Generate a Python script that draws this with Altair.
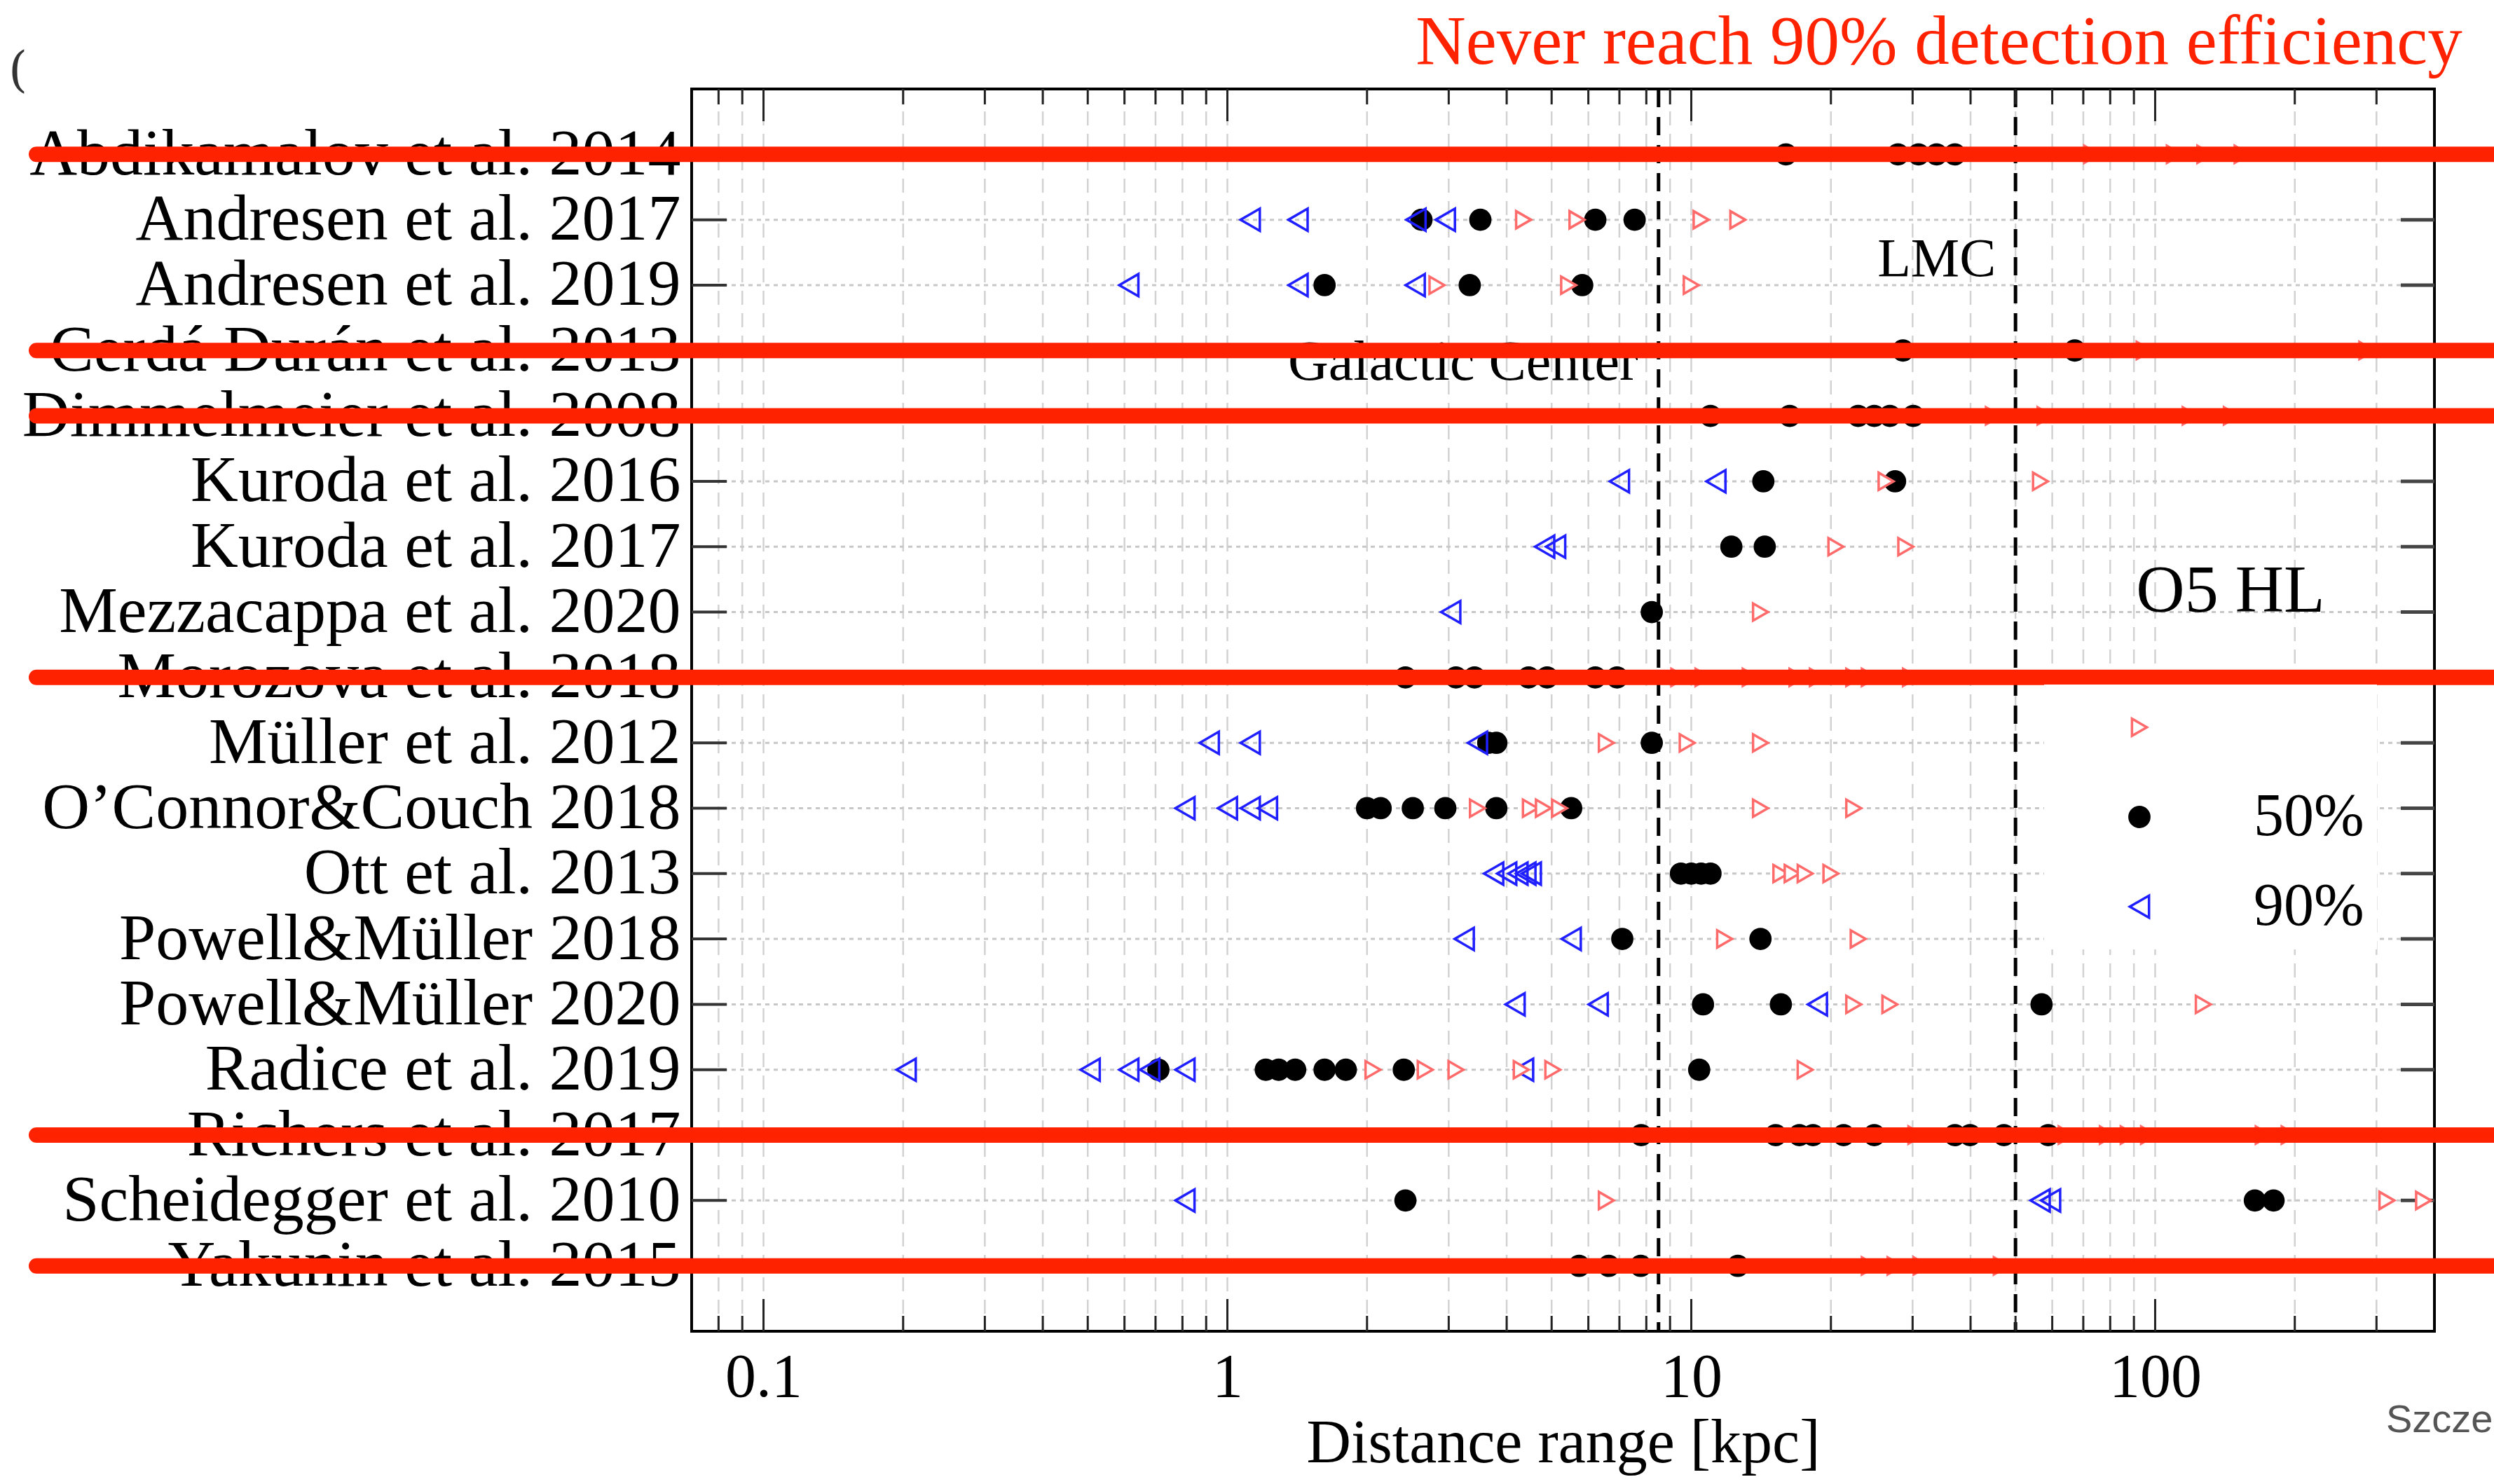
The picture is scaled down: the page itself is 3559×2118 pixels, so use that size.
import altair as alt
import pandas as pd

# ---------------- data ----------------
studies = [
    "Abdikamalov et al. 2014",
    "Andresen et al. 2017",
    "Andresen et al. 2019",
    "Cerdá Durán et al. 2013",
    "Dimmelmeier et al. 2008",
    "Kuroda et al. 2016",
    "Kuroda et al. 2017",
    "Mezzacappa et al. 2020",
    "Morozova et al. 2018",
    "Müller et al. 2012",
    "O’Connor&Couch 2018",
    "Ott et al. 2013",
    "Powell&Müller 2018",
    "Powell&Müller 2020",
    "Radice et al. 2019",
    "Richers et al. 2017",
    "Scheidegger et al. 2010",
    "Yakunin et al. 2015",
]

# studies struck through ("never reach 90% detection efficiency")
struck = [
    "Abdikamalov et al. 2014",
    "Cerdá Durán et al. 2013",
    "Dimmelmeier et al. 2008",
    "Morozova et al. 2018",
    "Richers et al. 2017",
    "Yakunin et al. 2015",
]

# 50% detection efficiency distances [kpc] (black dots)
d50 = [
    [16.0, 27.9, 30.9, 33.8, 37.0],
    [2.62, 3.51, 6.21, 7.55],
    [1.62, 3.33, 5.82],
    [28.6, 67.1],
    [11.0, 16.3, 22.9, 24.8, 26.8, 30.1],
    [14.3, 27.5],
    [12.2, 14.4],
    [8.22],
    [2.42, 3.11, 3.41, 4.46, 4.89, 6.21, 6.92],
    [3.65, 3.80, 8.22],
    [2.0, 2.14, 2.51, 2.95, 3.8, 5.51],
    [9.5, 10.0, 10.5, 11.0],
    [7.1, 14.1],
    [10.6, 15.6, 56.9],
    [0.71, 1.21, 1.29, 1.40, 1.62, 1.80, 2.40, 10.4],
    [7.8, 15.2, 17.1, 18.3, 21.3, 24.8, 37.0, 39.9, 47.2, 58.8],
    [2.42, 164.0, 180.0],
    [5.73, 6.64, 7.78, 12.6],
]

# 90% detection efficiency distances [kpc] (blue triangles)
d90 = [
    [],
    [1.12, 1.42, 2.55, 2.95],
    [0.613, 1.42, 2.54],
    [],
    [],
    [7.0, 11.3],
    [4.83, 5.10],
    [3.03],
    [],
    [0.914, 1.12, 3.46],
    [0.81, 1.0, 1.12, 1.22],
    [3.75, 4.0, 4.23, 4.4, 4.52],
    [3.24, 5.51],
    [4.17, 6.3, 18.7],
    [0.203, 0.506, 0.613, 0.68, 0.81, 4.35],
    [],
    [0.81, 56.5, 59.5],
    [],
]

# third (red, label not visible) series distances [kpc]
dred = [
    [73.0, 110.0, 128.0, 154.0],
    [4.35, 5.67, 10.5, 12.6],
    [2.83, 5.44, 10.0],
    [94.7, 286.0],
    [44.8, 57.9, 119.0, 146.0],
    [26.3, 56.6],
    [20.5, 29.0],
    [14.1],
    [9.4, 10.6, 13.4, 16.9, 18.7, 22.4, 24.2, 29.7],
    [6.56, 9.8, 14.1],
    [3.46, 4.5, 4.8, 5.2, 14.1, 22.4],
    [15.6, 16.5, 17.6, 20.0],
    [11.8, 22.9],
    [22.4, 26.8, 127.0],
    [2.06, 2.67, 3.11, 4.3, 5.03, 17.6],
    [30.5, 64.3, 78.9, 87.5, 96.8, 171.0, 194.5],
    [6.56, 316.0, 379.0],
    [24.2, 27.5, 31.3, 46.6],
]

levels = ["other", "50%", "90%"]

x_major = [0.1, 1, 10, 100]
x_major_labels = ["0.1", "1", "10", "100"]
x_minor = [0.08, 0.09, 0.2, 0.3, 0.4, 0.5, 0.6, 0.7, 0.8, 0.9,
           2, 3, 4, 5, 6, 7, 8, 9, 20, 30, 40, 50, 60, 70, 80, 90, 200, 300]
x_domain = [0.07, 400]

ref_lines = [8.5, 50.0]
ref_labels = ["Galactic Center", "LMC"]

title_text = "Never reach 90% detection efficiency"
detector_text = "O5 HL"
x_title = "Distance range [kpc]"
credit_text = "Szcze"

# ---------------- tables ----------------
rows = []
for lvl, series in (("50%", d50), ("90%", d90), ("other", dred)):
    for s, vals in zip(studies, series):
        for v in vals:
            rows.append({"study": s, "dist": v, "level": lvl})
pts = pd.DataFrame(rows)

grid_df = pd.DataFrame({"dist": x_major + x_minor})
major_df = pd.DataFrame({"dist": x_major})
minor_df = pd.DataFrame({"dist": x_minor})
rows_df = pd.DataFrame({"study": studies})
struck_df = pd.DataFrame({"study": struck})
gc_df = pd.DataFrame({"dist": [ref_lines[0]], "label": [ref_labels[0]]})
lmc_df = pd.DataFrame({"dist": [ref_lines[1]], "label": [ref_labels[1]]})
ref_df = pd.DataFrame({"dist": ref_lines})

# ---------------- layout ----------------
W, H = 2487, 1773
SERIF = "Liberation Serif"

label_expr = ""
for v, t in zip(x_major, x_major_labels):
    label_expr += f"datum.value == {v} ? '{t}' : "
label_expr += "''"

xs = alt.Scale(type="log", domain=x_domain, nice=False)
ys = alt.Scale(type="point", domain=studies, padding=1)

x_axis = alt.Axis(values=x_major, labelExpr=label_expr, title=x_title,
                  grid=False, ticks=False, domain=False,
                  labelFont=SERIF, labelFontSize=88, labelPadding=22,
                  labelColor="black", labelFlush=False, labelOverlap=False,
                  titleFont=SERIF, titleFontSize=88, titleFontWeight="normal",
                  titleColor="black", titlePadding=6)
y_axis = alt.Axis(title=None, grid=False, ticks=False, domain=False,
                  labelFont=SERIF, labelFontSize=94, labelPadding=16,
                  labelColor="black", labelLimit=2000)

x_enc = alt.X("dist:Q", scale=xs, axis=x_axis)
y_enc = alt.Y("study:N", scale=ys, axis=y_axis)

leg = alt.Legend(title=None, orient="none", legendX=1930, legendY=850,
                 fillColor="white", padding=18, symbolOffset=75,
                 labelOffset=120, labelFont=SERIF, labelFontSize=86,
                 labelColor="black", rowPadding=42, symbolStrokeWidth=3.5,
                 labelExpr="datum.label == 'other' ? '' : datum.label",
                 labelLimit=0)

vgrid = alt.Chart(grid_df).mark_rule(color="#d2d2d2", strokeWidth=2.5,
                                     strokeDash=[20, 12]).encode(x=x_enc)
hgrid = alt.Chart(rows_df).mark_rule(color="#c8c8c8", strokeWidth=3,
                                     strokeDash=[6, 6]).encode(y=y_enc)

refl = alt.Chart(ref_df).mark_rule(color="black", strokeWidth=5,
                                   strokeDash=[26, 14]).encode(x=x_enc)
gc_txt = alt.Chart(gc_df).mark_text(font=SERIF, fontSize=80, align="right",
                                    baseline="middle", dx=-29, color="black"
                                    ).encode(x=x_enc, y=alt.value(391), text="label:N")
lmc_txt = alt.Chart(lmc_df).mark_text(font=SERIF, fontSize=78, align="right",
                                      baseline="middle", dx=-28, color="black"
                                      ).encode(x=x_enc, y=alt.value(244), text="label:N")

points = alt.Chart(pts).mark_point(strokeWidth=3.5, opacity=1).encode(
    x=x_enc, y=y_enc,
    shape=alt.Shape("level:N", scale=alt.Scale(domain=levels,
                    range=["triangle-right", "circle", "triangle-left"]), legend=leg),
    stroke=alt.Stroke("level:N", scale=alt.Scale(domain=levels,
                      range=["#ff6a6a", "#000000", "#1f1fff"]), legend=leg),
    fill=alt.Fill("level:N", scale=alt.Scale(domain=levels,
                  range=["#ffffff", "#000000", "transparent"]), legend=leg),
    size=alt.Size("level:N", scale=alt.Scale(domain=levels,
                  range=[600, 1000, 1000]), legend=leg),
)

strike = alt.Chart(struck_df).mark_rule(color="#ff2200", strokeWidth=22,
                                        strokeCap="round").encode(
    y=y_enc, x=alt.value(-935), x2=alt.value(2572))

tick_col = "#222222"
top_major = alt.Chart(major_df).mark_rule(color=tick_col, strokeWidth=3).encode(
    x=x_enc, y=alt.value(0), y2=alt.value(46))
top_minor = alt.Chart(minor_df).mark_rule(color=tick_col, strokeWidth=3).encode(
    x=x_enc, y=alt.value(0), y2=alt.value(22))
bot_major = alt.Chart(major_df).mark_rule(color=tick_col, strokeWidth=3).encode(
    x=x_enc, y=alt.value(H), y2=alt.value(H - 46))
bot_minor = alt.Chart(minor_df).mark_rule(color=tick_col, strokeWidth=3).encode(
    x=x_enc, y=alt.value(H), y2=alt.value(H - 22))
left_ticks = alt.Chart(rows_df).mark_rule(color="#333333", strokeWidth=4).encode(
    y=y_enc, x=alt.value(0), x2=alt.value(50))
right_ticks = alt.Chart(rows_df).mark_rule(color="#444444", strokeWidth=5).encode(
    y=y_enc, x=alt.value(W - 48), x2=alt.value(W))

title_mark = alt.Chart(pd.DataFrame({"t": [title_text]})).mark_text(
    font=SERIF, fontSize=99, color="#ff2200", align="center",
    baseline="alphabetic").encode(x=alt.value(1780), y=alt.value(-36), text="t:N")
det_mark = alt.Chart(pd.DataFrame({"t": [detector_text]})).mark_text(
    font=SERIF, fontSize=96, color="black", align="center",
    baseline="middle").encode(x=alt.value(2196), y=alt.value(717), text="t:N")
credit_mark = alt.Chart(pd.DataFrame({"t": [credit_text]})).mark_text(
    font="Liberation Sans", fontSize=56, color="#555555", align="left",
    baseline="middle").encode(x=alt.value(2418), y=alt.value(1900), text="t:N")
paren_mark = alt.Chart(pd.DataFrame({"t": ["("]})).mark_text(
    font="DejaVu Serif", fontSize=70, color="#333333", align="left",
    baseline="middle", fontWeight=200).encode(x=alt.value(-975), y=alt.value(-25), text="t:N")

chart = alt.layer(
    vgrid, hgrid, refl, gc_txt, lmc_txt,
    top_major, top_minor, bot_major, bot_minor, left_ticks, right_ticks,
    points, strike, title_mark, det_mark, credit_mark, paren_mark,
).properties(
    width=W, height=H,
    background="white",
    padding={"left": 987, "top": 127, "right": 85, "bottom": 214},
    autosize=alt.AutoSizeParams(type="none"),
).configure_view(
    stroke="black", strokeWidth=4
)

chart.save("out.html", embed_options={"renderer": "svg", "actions": False})
